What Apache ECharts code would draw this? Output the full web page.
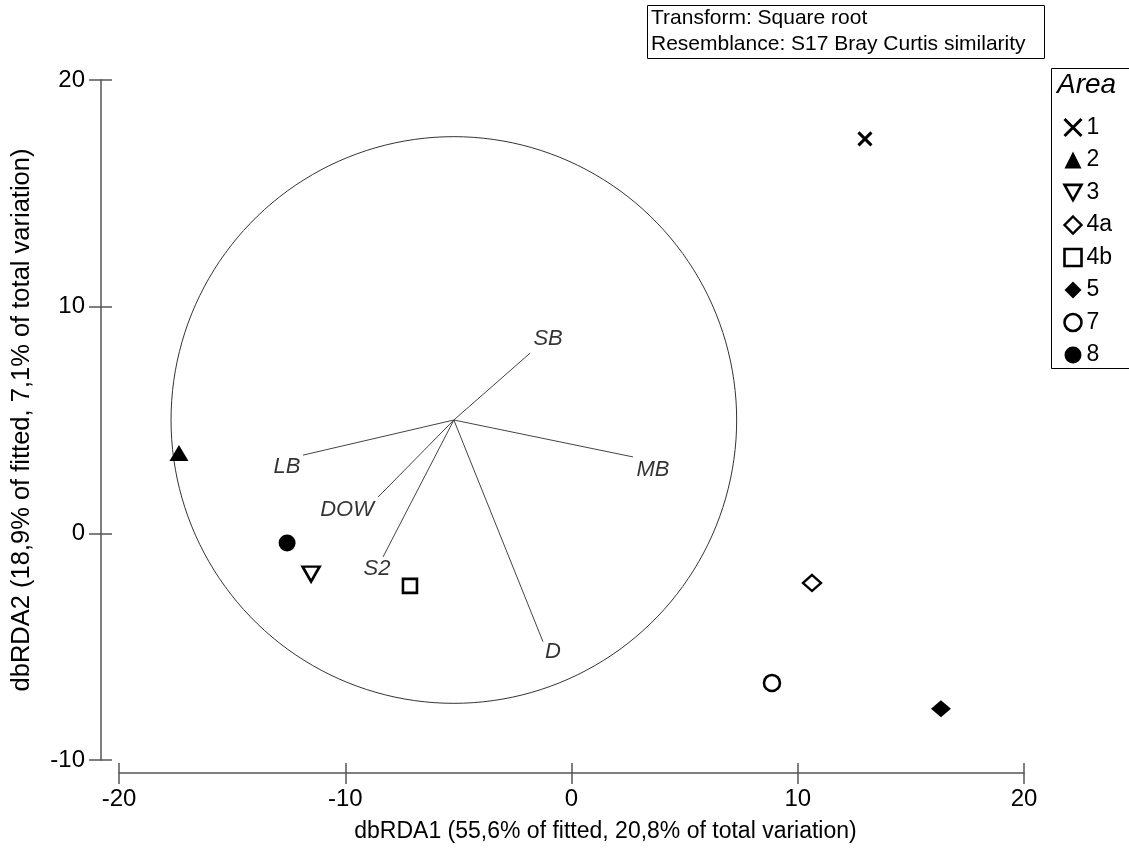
<!DOCTYPE html>
<html>
<head>
<meta charset="utf-8">
<title>dbRDA ordination</title>
<script src="https://cdn.jsdelivr.net/npm/echarts@6/dist/echarts.min.js"></script>
<style>
  html, body { margin: 0; padding: 0; background: #fff; }
  #chart { width: 1129px; height: 850px; }
</style>
</head>
<body>
<div id="chart"></div>
<script>
// ---- data ----
const areaNames = ['1', '2', '3', '4a', '4b', '5', '7', '8'];
const areaX = [12.97, -17.35, -11.51, 10.63, -7.14, 16.33, 8.86, -12.57];
const areaY = [17.40, 3.54, -1.80, -2.19, -2.32, -7.74, -6.60, -0.43];

const vectorNames = ['SB', 'MB', 'D', 'LB', 'DOW', 'S2'];
const vectorX = [-1.83, 2.72, -1.26, -11.87, -8.55, -8.33];
const vectorY = [7.95, 3.37, -4.78, 3.45, 1.60, -1.04];
const vectorOrigin = [-5.2, 5.0];
const circleRadius = 12.5;

const xTicks = [-20, -10, 0, 10, 20];
const yTicks = [-10, 0, 10, 20];

const xTitle = 'dbRDA1 (55,6% of fitted, 20,8% of total variation)';
const yTitle = 'dbRDA2 (18,9% of fitted, 7,1% of total variation)';
const noteLines = ['Transform: Square root', 'Resemblance: S17 Bray Curtis similarity'];
const legendTitle = 'Area';

// ---- styles ----
const FONT = '"Liberation Sans", Arial, sans-serif';
const AXIS_COLOR = '#555';
const symbolStyles = {
  '1':  { symbol: 'path://M0,0L10,10M10,0L0,10', size: 13, fill: 'none', stroke: '#000', bw: 3 },
  '2':  { symbol: 'triangle', size: [19, 16], fill: '#000', stroke: '#000', bw: 0 },
  '3':  { symbol: 'path://M0,0L10,0L5,9Z', size: [17, 15], fill: '#fff', stroke: '#000', bw: 2.6 },
  '4a': { symbol: 'diamond', size: [18, 16], fill: '#fff', stroke: '#000', bw: 2.4 },
  '4b': { symbol: 'rect', size: 14, fill: '#fff', stroke: '#000', bw: 2.6 },
  '5':  { symbol: 'diamond', size: [20, 17], fill: '#000', stroke: '#000', bw: 0 },
  '7':  { symbol: 'circle', size: 16, fill: '#fff', stroke: '#000', bw: 2.6 },
  '8':  { symbol: 'circle', size: 17, fill: '#000', stroke: '#000', bw: 0 }
};
// pixel offsets for vector labels relative to vector tips
const vectorLabelOffset = {
  SB: [18, -14], MB: [20, 13], D: [10, 10], LB: [-16, 12], DOW: [-31, 13], S2: [-6, 12]
};

const chart = echarts.init(document.getElementById('chart'), null, { renderer: 'canvas' });

const grid = { left: 119, right: 105, top: 80, bottom: 90 };

function axisBase(min, max) {
  return { type: 'value', min: min, max: max, interval: 10, splitLine: { show: false } };
}

// each axis is paired with a twin that carries the inward half of the ticks,
// so that every tick crosses the axis line
const xAxes = [
  Object.assign(axisBase(-20, 20), {
    position: 'bottom', offset: 13,
    name: xTitle, nameLocation: 'middle', nameGap: 47,
    nameTextStyle: { fontFamily: FONT, fontSize: 23, color: '#000', padding: [0, 0, 0, 68] },
    axisLine: { show: true, onZero: false, lineStyle: { color: AXIS_COLOR, width: 1.5 } },
    axisTick: { show: true, inside: false, length: 11, lineStyle: { color: AXIS_COLOR, width: 1.5 } },
    axisLabel: { fontFamily: FONT, fontSize: 24, color: '#000', margin: 14,
      customValues: xTicks }
  }),
  Object.assign(axisBase(-20, 20), {
    position: 'bottom', offset: 13,
    axisLine: { show: true, onZero: false, lineStyle: { color: 'rgba(0,0,0,0)', width: 1 } },
    axisTick: { show: true, inside: true, length: 10, lineStyle: { color: AXIS_COLOR, width: 1.5 } },
    axisLabel: { show: false }
  })
];
const yAxes = [
  Object.assign(axisBase(-10, 20), {
    position: 'left', offset: 18,
    name: yTitle, nameLocation: 'middle', nameGap: 66,
    nameTextStyle: { fontFamily: FONT, fontSize: 25.5, color: '#000' },
    axisLine: { show: true, onZero: false, lineStyle: { color: AXIS_COLOR, width: 1.5 } },
    axisTick: { show: true, inside: false, length: 12, lineStyle: { color: AXIS_COLOR, width: 1.5 } },
    axisLabel: { fontFamily: FONT, fontSize: 24, color: '#000', margin: 16,
      customValues: yTicks }
  }),
  Object.assign(axisBase(-10, 20), {
    position: 'left', offset: 18,
    axisLine: { show: true, onZero: false, lineStyle: { color: 'rgba(0,0,0,0)', width: 1 } },
    axisTick: { show: true, inside: true, length: 11, lineStyle: { color: AXIS_COLOR, width: 1.5 } },
    axisLabel: { show: false }
  })
];

const series = [];

// correlation circle around the vector origin
const circlePts = [];
for (let i = 0; i <= 360; i += 2) {
  const a = i * Math.PI / 180;
  circlePts.push([vectorOrigin[0] + circleRadius * Math.cos(a), vectorOrigin[1] + circleRadius * Math.sin(a)]);
}
series.push({
  type: 'line', data: circlePts, showSymbol: false, silent: true, smooth: false,
  lineStyle: { color: '#333', width: 1 }, z: 1
});

// vectors from the common origin
vectorNames.forEach((name, i) => {
  series.push({
    type: 'line', showSymbol: false, silent: true,
    data: [vectorOrigin, [vectorX[i], vectorY[i]]],
    lineStyle: { color: '#444', width: 1 }, z: 2
  });
  series.push({
    type: 'scatter', symbolSize: 0, silent: true,
    data: [[vectorX[i], vectorY[i]]],
    label: {
      show: true, position: 'inside', formatter: name,
      offset: vectorLabelOffset[name],
      fontFamily: FONT, fontStyle: 'italic', fontSize: 22, color: '#000'
    }, z: 3
  });
});

// area samples
areaNames.forEach((name, i) => {
  const s = symbolStyles[name];
  series.push({
    type: 'scatter', name: name,
    symbol: s.symbol, symbolSize: s.size,
    data: [[areaX[i], areaY[i]]],
    itemStyle: { color: s.fill, borderColor: s.stroke, borderWidth: s.bw, opacity: 1 },
    z: 5
  });
});

// legend entries with the same marker strokes as the plotted samples
const legendData = areaNames.map(name => {
  const s = symbolStyles[name];
  return {
    name: name,
    itemStyle: { color: s.fill, borderColor: s.stroke, borderWidth: s.bw }
  };
});

chart.setOption({
  animation: false,
  backgroundColor: '#fff',
  grid: grid,
  xAxis: xAxes,
  yAxis: yAxes,
  legend: {
    orient: 'vertical', left: 1057, top: 111,
    itemWidth: 17, itemHeight: 17, itemGap: 9.5,
    data: legendData,
    selectedMode: false,
    textStyle: { fontFamily: FONT, fontSize: 23, color: '#000', padding: [0, 0, 0, 0] }
  },
  graphic: [
    { type: 'rect', shape: { x: 647.5, y: 5.5, width: 397, height: 53 },
      style: { fill: '#fff', stroke: '#000', lineWidth: 1 }, z: 10 },
    { type: 'text', left: 651, top: 5,
      style: { text: noteLines.join('\n'), fontFamily: FONT, fontSize: 21, lineHeight: 26, fill: '#000' }, z: 11 },
    { type: 'rect', shape: { x: 1051.5, y: 68.5, width: 90, height: 300 },
      style: { fill: 'none', stroke: '#000', lineWidth: 1 }, z: 10 },
    { type: 'text', left: 1057, top: 71,
      style: { text: legendTitle, fontFamily: FONT, fontStyle: 'italic', fontSize: 28, fill: '#000' }, z: 11 }
  ],
  series: series
});
</script>
</body>
</html>
